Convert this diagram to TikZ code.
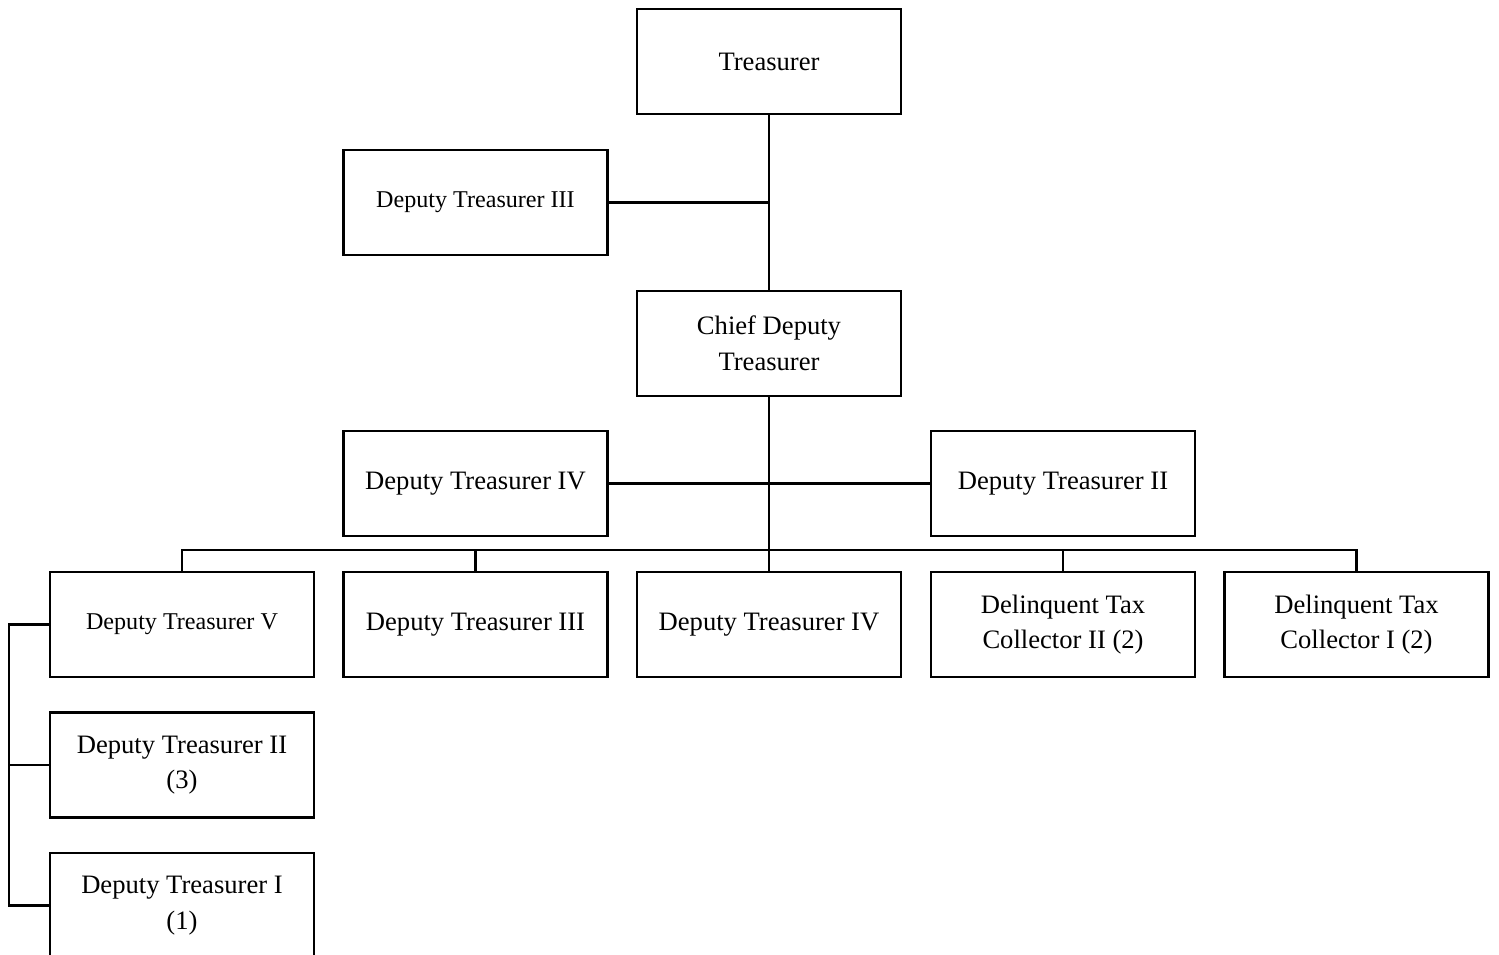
\documentclass[tikz,border=0pt]{standalone}
\usepackage{fontspec}
\setmainfont{Liberation Serif}
\begin{document}
\begin{tikzpicture}[x=1pt,y=-1pt,
  box/.style={draw,line width=2.4pt,minimum width=264pt,minimum height=105pt,inner sep=0pt,align=center,font=\fontsize{26.6}{35.5}\selectfont},
  smallbox/.style={box,font=\fontsize{24.1}{32}\selectfont},
  one/.style={text depth=2pt},
  link/.style={line width=2.4pt}]
\useasboundingbox (0,0) rectangle (1499,955);
\node[box] (tre) at (769,61.5) {Treasurer};
\node[smallbox] (dt3a) at (475.5,202.5) {Deputy Treasurer III};
\node[box] (chief) at (769,343.5) {Chief Deputy\\Treasurer};
\node[box] (dt4a) at (475.5,483.5) {Deputy Treasurer IV};
\node[box] (dt2a) at (1063,483.5) {Deputy Treasurer II};
\node[smallbox] (dt5) at (182,624.5) {Deputy Treasurer V};
\node[box] (dt3b) at (475.5,624.5) {Deputy Treasurer III};
\node[box] (dt4b) at (769,624.5) {Deputy Treasurer IV};
\node[box] (dtc2) at (1063,624.5) {Delinquent Tax\\Collector II (2)};
\node[box] (dtc1) at (1356.5,624.5) {Delinquent Tax\\Collector I (2)};
\node[box] (dt2b) at (182,765) {Deputy Treasurer II\\(3)};
\node[box] (dt1) at (182,905.5) {Deputy Treasurer I\\(1)};
\coordinate (j1) at (769,202.5);
\coordinate (bus) at (769,550);
\coordinate (lb) at (9,624.5);
\draw[link] (tre.south) -- (chief.north);
\draw[link] (dt3a.east) -- (j1);
\draw[link] (chief.south) -- (dt4b.north);
\draw[link] (dt4a.east) -- (dt2a.west);
\draw[link] (dt5.north) |- (bus) -| (dtc1.north);
\draw[link] (dt3b.north) -- (dt3b.north |- bus);
\draw[link] (dtc2.north) -- (dtc2.north |- bus);
\draw[link] (dt5.west) -- (lb) |- (dt1.west);
\draw[link] (dt2b.west) -- (lb |- dt2b.west);
\end{tikzpicture}
\end{document}
